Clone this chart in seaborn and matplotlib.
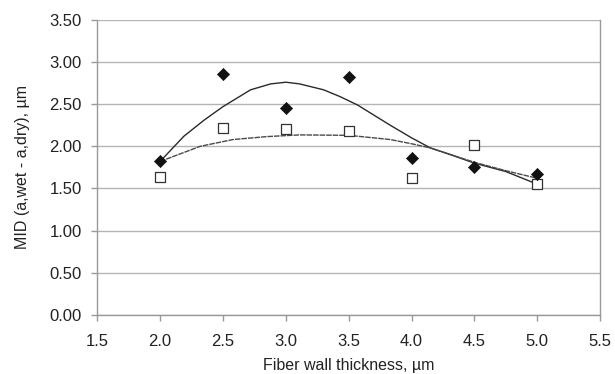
import matplotlib
matplotlib.use("Agg")
import matplotlib.pyplot as plt
import seaborn as sns
import pandas as pd

# measured points
thickness = [2.0, 2.5, 3.0, 3.5, 4.0, 4.5, 5.0]
mid_diamond = [1.82, 2.86, 2.45, 2.82, 1.86, 1.76, 1.67]
mid_square = [1.64, 2.22, 2.21, 2.18, 1.62, 2.02, 1.55]

# trend curves
solid_x = [2.0, 2.19, 2.35, 2.5, 2.72, 2.88, 3.0, 3.11, 3.3, 3.43, 3.57, 3.83,
           4.0, 4.15, 4.31, 4.5, 4.75, 5.0]
solid_y = [1.82, 2.12, 2.31, 2.47, 2.67, 2.74, 2.76, 2.74, 2.67, 2.59, 2.49, 2.25,
           2.10, 1.98, 1.90, 1.80, 1.70, 1.55]
dotted_x = [2.0, 2.32, 2.58, 2.85, 3.11, 3.5, 3.83, 4.0, 4.15, 4.5, 4.75, 5.0]
dotted_y = [1.82, 2.00, 2.08, 2.115, 2.135, 2.13, 2.08, 2.03, 1.98, 1.81, 1.71, 1.62]

x_ticks = [1.5, 2.0, 2.5, 3.0, 3.5, 4.0, 4.5, 5.0, 5.5]
y_ticks = [0.0, 0.5, 1.0, 1.5, 2.0, 2.5, 3.0, 3.5]

sns.set_theme(style="white")
plt.rcParams['font.family'] = ['Liberation Sans', 'DejaVu Sans']

pts = pd.DataFrame({"x": thickness, "d": mid_diamond, "s": mid_square})
c1 = pd.DataFrame({"x": solid_x, "y": solid_y})
c2 = pd.DataFrame({"x": dotted_x, "y": dotted_y})

fig = plt.figure(figsize=(6.15, 3.74), dpi=100)
ax = fig.add_axes([0.158, 0.158, 0.818, 0.789])

for y in y_ticks:
    ax.axhline(y, color="#b4b4b4", lw=1.0, zorder=0)

sns.lineplot(data=c1, x="x", y="y", ax=ax, color="#2a2a2a", lw=1.0, sort=False, zorder=2)
sns.lineplot(data=c2, x="x", y="y", ax=ax, color="#4a4a4a", lw=1.0, sort=False,
             zorder=2, linestyle=(0, (4, 0.7)))
sns.scatterplot(data=pts, x="x", y="s", ax=ax, marker="s", s=55, facecolor="white",
                edgecolor="#333333", linewidth=0.9, zorder=3)
sns.scatterplot(data=pts, x="x", y="d", ax=ax, marker="D", s=38, color="#111111",
                edgecolor="#111111", linewidth=0.5, zorder=4)

ax.set_xlim(1.5, 5.5)
ax.set_ylim(0, 3.5)
ax.set_xticks(x_ticks)
ax.set_yticks(y_ticks)
ax.set_xticklabels([f"{v:.1f}" for v in x_ticks])
ax.set_yticklabels([f"{v:.2f}" for v in y_ticks])
ax.tick_params(axis="both", labelsize=12, colors="#222222", length=4, width=1,
               color="#999999", direction="out", bottom=True, left=True)
ax.tick_params(axis="x", pad=10)
ax.tick_params(axis="y", pad=7)

for side in ["left", "bottom", "right"]:
    ax.spines[side].set_color("#999999")
    ax.spines[side].set_linewidth(1.0)
ax.spines["top"].set_visible(False)

ax.set_xlabel("Fiber wall thickness, µm", fontsize=11.5, color="#222222", labelpad=6)
ax.set_ylabel("MID (a,wet - a,dry), µm", fontsize=11.5, color="#222222", labelpad=14)

fig.savefig("out.png", dpi=100)
